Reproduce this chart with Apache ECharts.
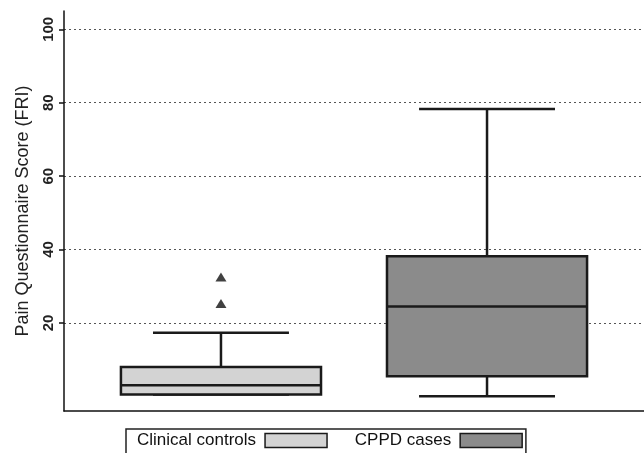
<!DOCTYPE html>
<html>
<head>
<meta charset="utf-8">
<script src="https://cdn.jsdelivr.net/npm/echarts@6/dist/echarts.min.js"></script>
<style>
  html, body { margin: 0; padding: 0; background: #fff; }
  #chart { width: 644px; height: 453px; }
</style>
</head>
<body>
<div id="chart"></div>
<script>
// group names and positions on the x axis
const groups = ['Clinical controls', 'CPPD cases']
const groupX = [1, 2]
// [min, Q1, median, Q3, max]
const controlsBox = [0.5, 0.5, 3, 8, 17.3]
const casesBox = [0, 5.5, 24.5, 38.2, 78.3]
// outliers of the clinical controls
const controlsOutliers = [32.5, 25.3]
// y axis tick labels
const yTicks = [20, 40, 60, 80, 100]

const fills = ['#d3d3d3', '#8b8b8b']
const edge = '#1a1a1a'

// box and cap widths in x axis units
const boxWidth = 0.752
const capWidth = 0.511

function renderBox(params, api) {
  const x = api.value(0)
  const lo = api.coord([x, api.value(1)])
  const q1 = api.coord([x, api.value(2)])
  const med = api.coord([x, api.value(3)])
  const q3 = api.coord([x, api.value(4)])
  const hi = api.coord([x, api.value(5)])
  const bw = api.size([boxWidth, 0])[0]
  const cw = api.size([capWidth, 0])[0]
  const cx = med[0]
  const stroke = { stroke: edge, lineWidth: 2.5 }
  const line = (x1, y1, x2, y2) => ({
    type: 'line',
    shape: { x1: x1, y1: y1, x2: x2, y2: y2 },
    style: stroke,
  })
  return {
    type: 'group',
    children: [
      line(cx, q3[1], cx, hi[1]),
      line(cx - cw / 2, hi[1], cx + cw / 2, hi[1]),
      line(cx, q1[1], cx, lo[1]),
      line(cx - cw / 2, lo[1], cx + cw / 2, lo[1]),
      {
        type: 'rect',
        shape: { x: cx - bw / 2, y: q3[1], width: bw, height: q1[1] - q3[1] },
        style: { fill: api.visual('color'), stroke: edge, lineWidth: 2.5 },
      },
      line(cx - bw / 2, med[1], cx + bw / 2, med[1]),
    ],
  }
}

const chart = echarts.init(document.getElementById('chart'))
const font = '"Liberation Sans", Arial, sans-serif'

const option = {
  animation: false,
  textStyle: { fontFamily: font },
  grid: { left: 64, right: 0, top: 11, bottom: 42 },
  legend: {
    left: 126,
    top: 429,
    align: 'right',
    itemWidth: 62,
    itemHeight: 14,
    itemGap: 27,
    padding: [3, 3, 14, 11],
    borderColor: '#222',
    borderWidth: 1.5,
    textStyle: { fontSize: 17, color: '#111', fontFamily: font, padding: [0, 4, 0, 0] },
    data: groups.map((g, i) => ({
      name: g,
      icon: 'rect',
      itemStyle: { color: fills[i], borderColor: edge, borderWidth: 1.5 },
    })),
  },
  xAxis: {
    type: 'value',
    min: 0.41,
    max: 2.59,
    axisLine: { onZero: false, lineStyle: { color: '#111', width: 1.5 } },
    axisTick: { show: false },
    axisLabel: { show: false },
    splitLine: { show: false },
  },
  yAxis: {
    type: 'value',
    min: -4,
    max: 105,
    name: 'Pain Questionnaire Score (FRI)',
    nameLocation: 'middle',
    nameGap: 32,
    nameTextStyle: { fontSize: 18, color: '#222', fontFamily: font },
    axisLine: { show: true, onZero: false, lineStyle: { color: '#111', width: 1.5 } },
    axisTick: {
      show: true,
      length: 5,
      customValues: yTicks,
      lineStyle: { color: '#111', width: 1.5 },
    },
    axisLabel: {
      customValues: yTicks,
      rotate: 90,
      margin: 8,
      fontSize: 15,
      fontWeight: 'bold',
      color: '#222',
    },
    splitLine: {
      show: true,
      lineStyle: { color: '#555', width: 1, type: [2, 3] },
    },
  },
  series: [
    {
      name: groups[0],
      type: 'custom',
      renderItem: renderBox,
      itemStyle: { color: fills[0] },
      encode: { x: 0, y: [1, 2, 3, 4, 5] },
      data: [[groupX[0], ...controlsBox]],
    },
    {
      name: groups[1],
      type: 'custom',
      renderItem: renderBox,
      itemStyle: { color: fills[1] },
      encode: { x: 0, y: [1, 2, 3, 4, 5] },
      data: [[groupX[1], ...casesBox]],
    },
    {
      name: 'outliers',
      type: 'scatter',
      symbol: 'triangle',
      symbolSize: [11, 9],
      itemStyle: { color: '#111' },
      data: controlsOutliers.map(v => [groupX[0], v]),
    },
  ],
}

chart.setOption(option)
</script>
</body>
</html>
